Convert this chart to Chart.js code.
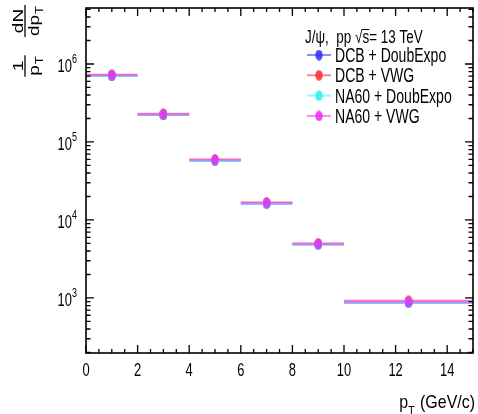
<!DOCTYPE html>
<html>
<head>
<meta charset="utf-8">
<script src="https://cdn.jsdelivr.net/npm/chart.js@4/dist/chart.umd.min.js"></script>
<style>
  html, body { margin: 0; padding: 0; background: #fff; }
  #wrap { width: 478px; height: 414px; position: relative; }
</style>
</head>
<body>
<div id="wrap"><canvas id="spectrum"></canvas></div>
<script>
// pT bins (GeV/c)
const binLow = [0, 2, 4, 6, 8, 10];
const binHigh = [2, 4, 6, 8, 10, 15];
const binCenter = [1, 3, 5, 7, 9, 12.5];

// 1/pT dN/dpT for each signal + background combination
const dcbDoubExpo = [7.05e5, 2.22e5, 5.75e4, 1.62e4, 4.85e3, 8.7e2];
const dcbVwg = [7.3e5, 2.3e5, 5.95e4, 1.67e4, 5.0e3, 9.2e2];
const na60DoubExpo = [7.1e5, 2.24e5, 5.8e4, 1.63e4, 4.9e3, 8.8e2];
const na60Vwg = [7.2e5, 2.27e5, 5.9e4, 1.66e4, 4.95e3, 8.95e2];

const seriesNames = ['DCB + DoubExpo', 'DCB + VWG', 'NA60 + DoubExpo', 'NA60 + VWG'];
const seriesValues = [dcbDoubExpo, dcbVwg, na60DoubExpo, na60Vwg];

// axis labels
const xTickValues = [0, 2, 4, 6, 8, 10, 12, 14];
const yDecades = [3, 4, 5, 6];

const lineColors = ['rgba(80,80,255,0.65)', 'rgba(255,70,70,0.65)', 'rgba(70,255,255,0.65)', 'rgba(255,70,255,0.65)'];
const markerColors = ['rgba(40,40,255,0.85)', 'rgba(255,40,40,0.85)', 'rgba(40,240,240,0.85)', 'rgba(240,40,240,0.85)'];

const FONT = '"Liberation Sans", Arial, Helvetica, sans-serif';

function ellipseMarker(color) {
  const c = document.createElement('canvas');
  c.width = 8;
  c.height = 11;
  const g = c.getContext('2d');
  g.fillStyle = color;
  g.beginPath();
  g.ellipse(4, 5.5, 3.7, 5.2, 0, 0, Math.PI * 2);
  g.fill();
  return c;
}
const markers = markerColors.map(ellipseMarker);

function binSegments(values) {
  const pts = [];
  values.forEach((v, i) => {
    pts.push({ x: binLow[i], y: v });
    pts.push({ x: binHigh[i], y: v });
    pts.push({ x: binHigh[i], y: null });
  });
  return pts;
}

const datasets = [];
seriesValues.forEach((vals, i) => {
  datasets.push({
    label: seriesNames[i] + ' bins',
    data: binSegments(vals),
    showLine: true,
    spanGaps: false,
    borderColor: lineColors[i],
    borderWidth: 2,
    pointRadius: 0,
    order: 10 - 2 * i,
  });
  datasets.push({
    label: seriesNames[i],
    data: binCenter.map((x, j) => ({ x, y: vals[j] })),
    pointStyle: markers[i],
    pointRadius: 4,
    order: 9 - 2 * i,
  });
});

// draw squeezed text, returns the drawn width
function text(ctx, str, x, y, size, align, sx) {
  ctx.save();
  ctx.translate(x, y);
  ctx.scale(sx, 1);
  ctx.font = size + 'px ' + FONT;
  ctx.textAlign = align || 'left';
  ctx.textBaseline = 'alphabetic';
  ctx.fillText(str, 0, 0);
  const w = ctx.measureText(str).width * sx;
  ctx.restore();
  return w;
}

function measure(ctx, str, size, sx) {
  ctx.save();
  ctx.font = size + 'px ' + FONT;
  const w = ctx.measureText(str).width * sx;
  ctx.restore();
  return w;
}

const rootFrame = {
  id: 'rootFrame',
  afterDraw(chart) {
    const { ctx, chartArea: a, scales: { x, y } } = chart;
    ctx.save();
    ctx.strokeStyle = '#000';
    ctx.fillStyle = '#000';
    ctx.lineWidth = 1.6;
    ctx.strokeRect(a.left, a.top, a.right - a.left, a.bottom - a.top);

    // x ticks, bottom and top
    ctx.lineWidth = 1.3;
    ctx.beginPath();
    for (let v = 0; v <= 15.001; v += 0.5) {
      const px = x.getPixelForValue(v);
      const len = Math.abs(v % 2) < 1e-6 ? 8 : 4;
      ctx.moveTo(px, a.bottom); ctx.lineTo(px, a.bottom - len);
      ctx.moveTo(px, a.top); ctx.lineTo(px, a.top + len);
    }
    // y ticks, left and right
    for (let d = 2; d <= 6; d++) {
      for (let m = 1; m <= 9; m++) {
        const v = m * Math.pow(10, d);
        if (v < y.min || v > y.max) continue;
        const py = y.getPixelForValue(v);
        const len = m === 1 ? 8 : 4.5;
        ctx.moveTo(a.left, py); ctx.lineTo(a.left + len, py);
        ctx.moveTo(a.right, py); ctx.lineTo(a.right - len, py);
      }
    }
    ctx.stroke();

    // x tick labels
    xTickValues.forEach(v => {
      text(ctx, String(v), x.getPixelForValue(v), 376, 19, 'center', 0.68);
    });

    // y tick labels 10^n
    yDecades.forEach(d => {
      const py = y.getPixelForValue(Math.pow(10, d));
      const supW = measure(ctx, String(d), 12.5, 0.72);
      text(ctx, String(d), 77, py - 1, 12.5, 'right', 0.72);
      text(ctx, '10', 77 - supW, py + 8, 18.5, 'right', 0.7);
    });

    // x title: p_T (GeV/c)
    let xr = 475;
    const rest = ' (GeV/c)';
    xr -= measure(ctx, rest, 19, 0.84);
    text(ctx, rest, xr, 408, 19, 'left', 0.84);
    xr -= measure(ctx, 'T', 13, 0.8) + 1;
    text(ctx, 'T', xr, 415, 13, 'left', 0.8);
    xr -= measure(ctx, 'p', 19, 0.84);
    text(ctx, 'p', xr, 408, 19, 'left', 0.84);

    // y title: 1/pT dN/dpT, rotated
    ctx.save();
    ctx.translate(25, 0);
    ctx.scale(0.8, 1);
    ctx.rotate(-Math.PI / 2);
    ctx.textBaseline = 'alphabetic';
    const frac = (num, center) => {
      ctx.font = '19px ' + FONT;
      const dW = num === 'dN' ? ctx.measureText('d').width : 0;
      const pW = ctx.measureText('p').width;
      ctx.font = '13px ' + FONT;
      const tW = ctx.measureText('T').width;
      const denW = dW + pW + tW + 1;
      const u0 = -center - denW / 2;
      ctx.font = '19px ' + FONT;
      ctx.textAlign = 'center';
      ctx.fillText(num, -center, -3);
      ctx.textAlign = 'left';
      ctx.fillText(num === 'dN' ? 'dp' : 'p', u0, 17);
      ctx.font = '13px ' + FONT;
      ctx.fillText('T', u0 + dW + pW + 1, 22);
      ctx.fillRect(u0 - 1, -0.8, denW + 2, 1.6);
    };
    frac('dN', 21);
    frac('1', 66);
    ctx.restore();

    // legend header
    const hx = 305, hb = 42.5, hs = 17.5, hsx = 0.77;
    const part1 = 'J/\u03C8,  pp ';
    let cx = hx + text(ctx, part1, hx, hb, hs, 'left', hsx);
    cx += text(ctx, '\u221A', cx, hb, hs, 'left', hsx);
    const sW = text(ctx, 's', cx, hb, hs, 'left', hsx);
    ctx.lineWidth = 1;
    ctx.beginPath();
    ctx.moveTo(cx - 0.5, hb - 13); ctx.lineTo(cx + sW, hb - 13);
    ctx.stroke();
    text(ctx, '= 13 TeV', cx + sW, hb, hs, 'left', hsx);

    // legend entries
    seriesNames.forEach((name, i) => {
      const cy = 55 + i * 20.3;
      ctx.strokeStyle = lineColors[i];
      ctx.lineWidth = 2;
      ctx.beginPath();
      ctx.moveTo(307, cy); ctx.lineTo(331, cy);
      ctx.stroke();
      ctx.drawImage(markers[i], 319 - 4, cy - 5.5);
      ctx.fillStyle = '#000';
      text(ctx, name, 335, cy + 7, 19.5, 'left', 0.72);
    });
    ctx.restore();
  }
};

new Chart(document.getElementById('spectrum'), {
  type: 'scatter',
  data: { datasets },
  options: {
    responsive: true,
    maintainAspectRatio: false,
    animation: false,
    layout: { padding: { left: 86, right: 2, top: 8, bottom: 61 } },
    scales: {
      x: { type: 'linear', min: 0, max: 15, display: false },
      y: { type: 'logarithmic', min: 197, max: 5.22e6, display: false },
    },
    plugins: {
      legend: { display: false },
      tooltip: { enabled: false },
    },
  },
  plugins: [rootFrame],
});
</script>
</body>
</html>
